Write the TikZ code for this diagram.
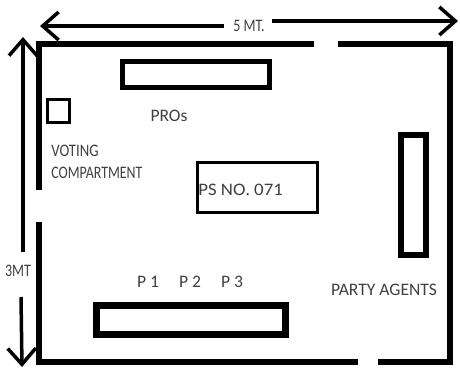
\documentclass[tikz,border=0pt]{standalone}
\usepackage{fontspec}
\setmainfont{Carlito}
\usetikzlibrary{arrows.meta}
\definecolor{labelgray}{gray}{0.25}
\tikzset{
    wall/.style={line width=0.125cm, line cap=butt},
    dimline/.style={line width=0.07cm, -{Straight Barb[length=0.32cm,width=0.56cm,line width=0.07cm]}},
    lbl/.style={text=labelgray, font=\fontsize{10}{12}\selectfont, inner sep=0pt}
}
\begin{document}
\begin{tikzpicture}[x=0.02cm,y=-0.02cm]
    \useasboundingbox (0,0) rectangle (460,369);

    % Walls
    \draw[wall] (39,190) -- (39,44) -- (314,44);
    \draw[wall] (338,44) -- (450,44) -- (450,362) -- (378,362);
    \draw[wall] (358,362) -- (39,362) -- (39,222);

    % Furniture
    \draw[line width=0.1cm] (122.5,61.5) rectangle (269.5,87.5);
    \draw[line width=0.06cm] (47.5,99.5) rectangle (69,122);
    \draw[line width=0.06cm] (197.5,162.5) rectangle (317,212);
    \draw[line width=0.125cm] (401,135) rectangle (426,255);
    \draw[line width=0.14cm] (96.5,305.5) rectangle (285.5,334.5);

    % Dimensions
    \coordinate (widthleft) at (40,26);
    \coordinate (widthmidl) at (224,26);
    \coordinate (widthmidr) at (272,21);
    \coordinate (widthright) at (458,21);
    \coordinate (heighttop) at (23,37);
    \coordinate (heightmidt) at (23,252);
    \coordinate (heightmidb) at (21,297);
    \coordinate (heightbottom) at (22,367);
    \draw[dimline] (widthmidl) -- (widthleft);
    \draw[dimline] (widthmidr) -- (widthright);
    \draw[dimline] (heightmidt) -- (heighttop);
    \draw[dimline] (heightmidb) -- (heightbottom);

    % Labels
    \node[lbl] (widthlabel) at (249,26) {\scalebox{0.8}[1]{5 MT.}};
    \node[lbl] (heightlabel) at (18,271) {\scalebox{0.8}[1]{3MT}};
    \node[lbl] (proslabel) at (169,116) {PROs};
    \node[lbl,anchor=west] (votinglabel) at (51,151) {\scalebox{0.84}[1]{VOTING}};
    \node[lbl,anchor=west] (compartlabel) at (51,173) {\scalebox{0.79}[1]{COMPARTMENT}};
    \node[lbl,anchor=west] (pslabel) at (198,190) {\scalebox{1.07}[1]{PS NO. 071}};
    \node[lbl] (ponelabel) at (148,282) {P 1};
    \node[lbl] (ptwolabel) at (190,282) {P 2};
    \node[lbl] (pthreelabel) at (232,282) {P 3};
    \node[lbl] (agentslabel) at (384,290) {PARTY AGENTS};
\end{tikzpicture}
\end{document}
